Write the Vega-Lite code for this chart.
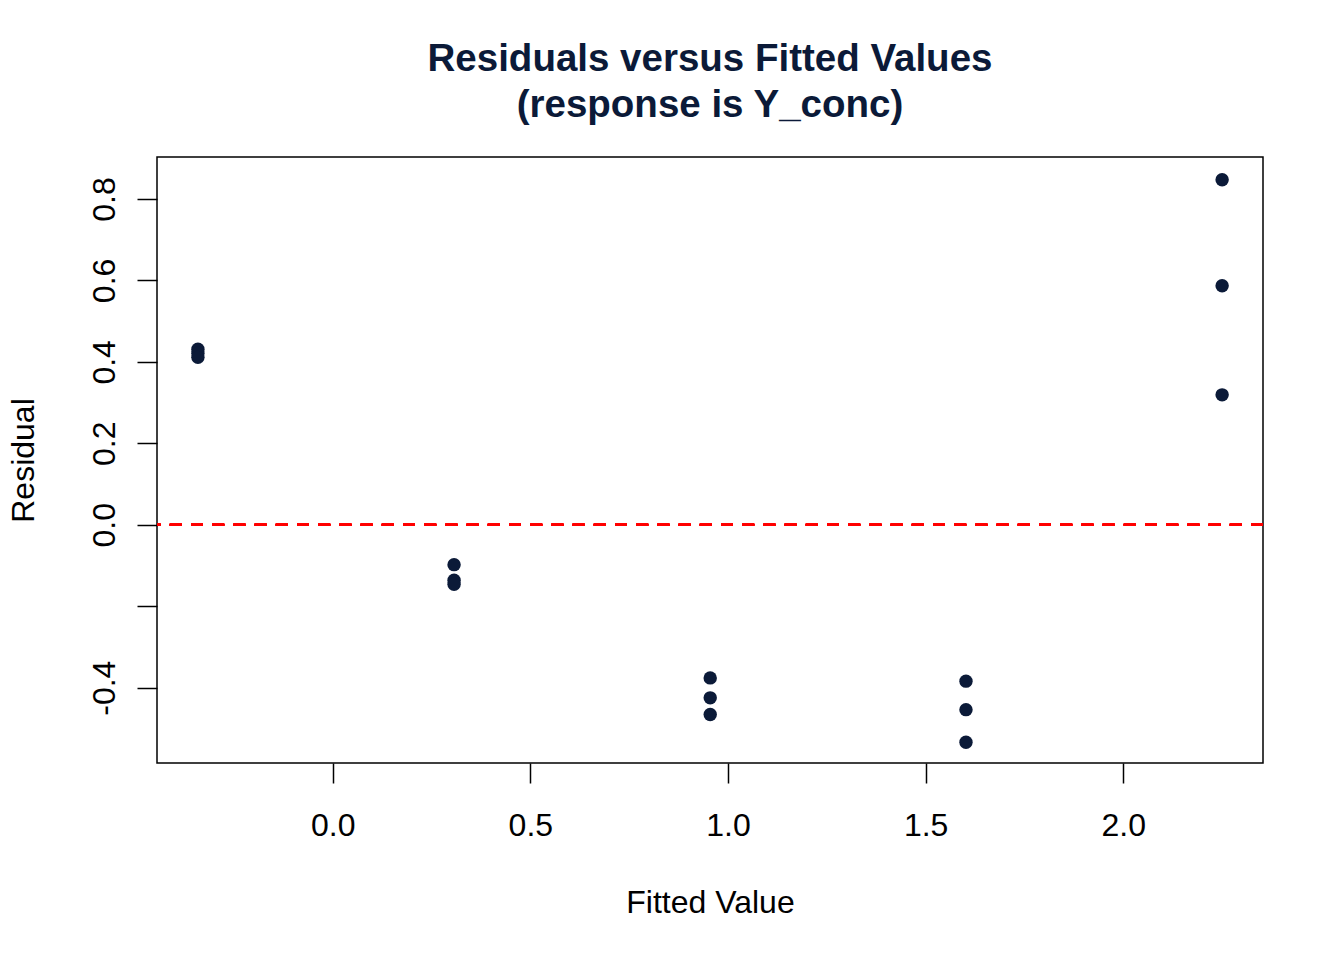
{
  "$schema": "https://vega.github.io/schema/vega-lite/v6.json",
  "width": 1106,
  "height": 606,
  "autosize": "none",
  "padding": {"left": 157, "top": 157, "right": 81, "bottom": 197},
  "background": "white",
  "config": {
    "font": "Liberation Sans",
    "view": {"stroke": "black", "strokeWidth": 1.5},
    "axis": {"grid": false, "domain": false}
  },
  "title": {
    "text": ["Residuals versus Fitted Values", "(response is Y_conc)"],
    "fontSize": 38.5,
    "fontWeight": "bold",
    "color": "#0b1a38",
    "lineHeight": 46,
    "anchor": "middle",
    "offset": 32
  },
  "data": {
    "values": [
      {"fitted": -0.341, "residual": 0.431},
      {"fitted": -0.341, "residual": 0.421},
      {"fitted": -0.341, "residual": 0.411},
      {"fitted": 0.307, "residual": -0.098},
      {"fitted": 0.307, "residual": -0.136},
      {"fitted": 0.307, "residual": -0.146},
      {"fitted": 0.955, "residual": -0.376},
      {"fitted": 0.955, "residual": -0.425},
      {"fitted": 0.955, "residual": -0.466},
      {"fitted": 1.602, "residual": -0.384},
      {"fitted": 1.602, "residual": -0.454},
      {"fitted": 1.602, "residual": -0.534},
      {"fitted": 2.250, "residual": 0.847},
      {"fitted": 2.250, "residual": 0.587},
      {"fitted": 2.250, "residual": 0.319}
    ]
  },
  "layer": [
    {
      "mark": {"type": "rule", "color": "#ff0000", "strokeWidth": 2, "strokeDash": [12, 9.2]},
      "encoding": {"y": {"datum": 0, "type": "quantitative"}}
    },
    {
      "mark": {"type": "circle", "size": 180, "opacity": 1, "color": "#0b1a38"},
      "encoding": {
        "x": {
          "field": "fitted",
          "type": "quantitative",
          "scale": {"domain": [-0.4445, 2.3534], "nice": false, "zero": false},
          "axis": {
            "title": "Fitted Value",
            "titleFontSize": 32,
            "titleFontWeight": "normal",
            "titleColor": "black",
            "titleBaseline": "alphabetic",
            "titleX": 553,
            "titleY": 149,
            "values": [0, 0.5, 1, 1.5, 2],
            "labelExpr": "datum.value == 0 ? '0.0' : datum.value == 1 ? '1.0' : datum.value == 2 ? '2.0' : '' + datum.value",
            "labelFontSize": 32,
            "labelColor": "black",
            "labelBaseline": "alphabetic",
            "labelPadding": 52,
            "tickSize": 20,
            "tickWidth": 1.5,
            "tickColor": "black"
          }
        },
        "y": {
          "field": "residual",
          "type": "quantitative",
          "scale": {"domain": [-0.585, 0.903], "nice": false, "zero": false},
          "axis": {
            "title": "Residual",
            "titleFontSize": 32,
            "titleFontWeight": "normal",
            "titleColor": "black",
            "titleAngle": -90,
            "titleBaseline": "alphabetic",
            "titleX": -124,
            "titleY": 303,
            "values": [-0.4, -0.2, 0, 0.2, 0.4, 0.6, 0.8],
            "labelExpr": "datum.value == 0 ? '0.0' : (datum.value > -0.25 && datum.value < -0.15) ? '' : '' + datum.value",
            "labelFontSize": 32,
            "labelColor": "black",
            "labelAngle": -90,
            "labelAlign": "center",
            "labelBaseline": "alphabetic",
            "labelPadding": 23,
            "tickSize": 20,
            "tickWidth": 1.5,
            "tickColor": "black"
          }
        }
      }
    }
  ]
}
